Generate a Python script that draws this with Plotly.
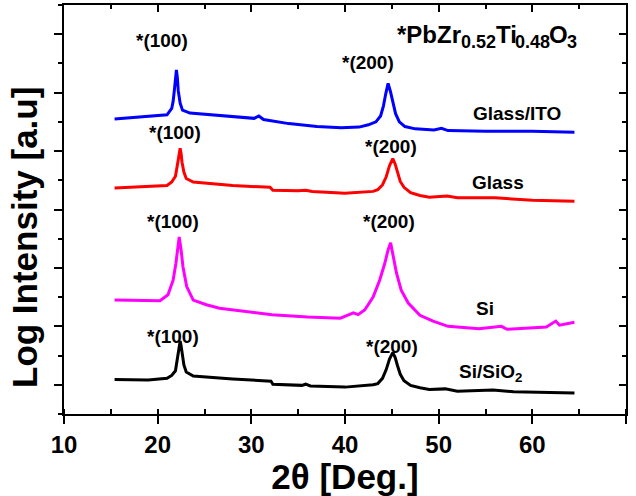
import plotly.graph_objects as go

# ---- data (2theta in degrees, log intensity offset in arbitrary units) ----
ito_x = [15.4, 18, 21.0, 21.5, 21.65, 21.8, 21.9, 22.0, 22.1, 22.2, 22.4, 22.65, 23.45, 26.6, 30.3, 30.8, 31.3,
         34, 37, 39.6, 41.5, 42.5, 43.3, 43.8, 44.1, 44.35, 44.6, 44.85, 45.1, 45.4, 45.8, 46.4, 47.5, 49.5,
         50.3, 51, 55, 60, 64.5]
ito_y = [5.05, 5.08, 5.12, 5.23, 5.35, 5.57, 5.75, 5.89, 5.76, 5.53, 5.32, 5.20, 5.15, 5.11, 5.06, 5.10, 5.04,
         4.97, 4.92, 4.90, 4.91, 4.95, 5.00, 5.10, 5.27, 5.48, 5.66, 5.52, 5.32, 5.14, 5.00, 4.92, 4.88, 4.86,
         4.89, 4.85, 4.84, 4.84, 4.82]

glass_x = [15.4, 19, 21.0, 21.5, 21.9, 22.05, 22.2, 22.3, 22.4, 22.5, 22.6, 22.8, 23.05, 23.8, 28, 32, 32.3,
           35, 35.8, 36.5, 40, 43, 43.5, 44.0, 44.4, 44.75, 45.1, 45.35, 45.6, 45.9, 46.3, 47.0, 48.0, 49,
           50.9, 52, 56, 60, 64.5]
glass_y = [3.87, 3.89, 3.91, 3.97, 4.07, 4.21, 4.38, 4.50, 4.55, 4.46, 4.31, 4.14, 4.03, 3.97, 3.91, 3.88, 3.83,
           3.82, 3.83, 3.81, 3.78, 3.81, 3.84, 3.92, 4.06, 4.25, 4.37, 4.28, 4.12, 3.98, 3.88, 3.79, 3.74, 3.71,
           3.73, 3.70, 3.70, 3.66, 3.64]

si_x = [15.4, 18.1, 20.25, 21.1, 21.65, 21.95, 22.1, 22.3, 22.5, 22.7, 23.1, 23.8, 25.2, 26.6, 32.2, 36,
        39.5, 40.9, 41.4, 42.1, 43.0, 43.7, 44.25, 44.6, 44.87, 45.15, 45.5, 46.0, 46.75, 48.0, 49.4, 51,
        54.3, 56.7, 57.3, 61.5, 62.5, 62.9, 64.5]
si_y = [1.95, 1.95, 1.94, 2.04, 2.29, 2.58, 2.81, 3.03, 2.81, 2.52, 2.18, 1.95, 1.87, 1.81, 1.70, 1.66,
        1.64, 1.73, 1.70, 1.78, 2.00, 2.29, 2.58, 2.81, 2.93, 2.69, 2.41, 2.12, 1.90, 1.69, 1.59, 1.50,
        1.46, 1.50, 1.45, 1.49, 1.59, 1.52, 1.57]

sio2_x = [15.4, 19, 21.0, 21.5, 21.9, 22.05, 22.2, 22.3, 22.4, 22.5, 22.6, 22.8, 23.05, 23.8, 28, 32.1, 32.3,
          35.4, 35.8, 36.3, 40, 43, 43.5, 44.0, 44.4, 44.75, 45.1, 45.35, 45.6, 45.9, 46.3, 47.0, 48, 49,
          50.7, 52, 55.8, 58, 64.5]
sio2_y = [0.59, 0.58, 0.61, 0.66, 0.74, 0.88, 1.05, 1.18, 1.25, 1.17, 1.03, 0.84, 0.72, 0.65, 0.60, 0.56, 0.51,
          0.49, 0.51, 0.48, 0.46, 0.50, 0.52, 0.61, 0.76, 0.94, 1.05, 0.97, 0.83, 0.68, 0.57, 0.49, 0.45, 0.42,
          0.43, 0.39, 0.41, 0.38, 0.36]

x_ticks = [10, 20, 30, 40, 50, 60, 70]

FONT = "Liberation Sans, Arial, sans-serif"

fig = go.Figure()
for xs, ys, col in [(ito_x, ito_y, "#0000FF"), (glass_x, glass_y, "#FF0000"),
                    (si_x, si_y, "#FF00FF"), (sio2_x, sio2_y, "#000000")]:
    fig.add_trace(go.Scatter(x=xs, y=ys, mode="lines", line=dict(color=col, width=3),
                             showlegend=False, hoverinfo="skip"))
# carrier for mirrored (top / right) axes
fig.add_trace(go.Scatter(x=[None], y=[None], xaxis="x2", yaxis="y2", showlegend=False, hoverinfo="skip"))

labels = [
    ("*(100)", 20.46, 6.40), ("*(200)", 42.44, 6.02), ("Glass/ITO", 58.35, 5.15),
    ("*(100)", 21.85, 4.81), ("*(200)", 44.9, 4.57), ("Glass", 56.3, 3.97),
    ("*(100)", 21.6, 3.30), ("*(200)", 44.7, 3.29), ("Si", 54.9, 1.80),
    ("*(100)", 21.6, 1.32), ("*(200)", 45.0, 1.15), ("Si/SiO<sub>2</sub>", 55.5, 0.70),
]
for t, x, y in labels:
    fig.add_annotation(x=x, y=y, xref="x", yref="y", text=t, showarrow=False,
                       font=dict(family=FONT, size=19, color="black", weight="bold"))

# formula label built from pieces: (text, left pixel, centre pixel y, size)
formula = [("*PbZr", 395, 34, 24), ("0.52", 459, 42, 18), ("Ti", 494, 34, 24),
           ("0.48", 513, 42, 18), ("O", 547, 34, 24), ("3", 565, 42, 18)]
for t, px, py, sz in formula:
    fig.add_annotation(x=(px - 64) / 562, y=(414 - py) / 409, xref="paper", yref="paper",
                       xanchor="left", yanchor="middle", text=t, showarrow=False,
                       font=dict(family=FONT, size=sz, color="black", weight="bold"))

# y-axis title
fig.add_annotation(x=(24 - 64) / 562, y=(414 - 238) / 409, xref="paper", yref="paper",
                   text="Log Intensity [a.u]", textangle=-90, showarrow=False,
                   xanchor="center", yanchor="middle",
                   font=dict(family=FONT, size=35, color="black", weight="bold"))

axis_common = dict(showline=True, linecolor="black", linewidth=1.5, showgrid=False, zeroline=False)

fig.update_layout(
    width=636, height=496,
    margin=dict(l=64, r=10, t=5, b=82),
    plot_bgcolor="white", paper_bgcolor="white",
    xaxis=dict(range=[10, 70], tickvals=x_ticks, ticks="outside", ticklen=8, tickwidth=1.5, tickcolor="black",
               minor=dict(dtick=5, tick0=10, ticks="inside", ticklen=5, tickwidth=1.5, tickcolor="black"),
               tickfont=dict(family=FONT, size=24, color="black", weight="bold"),
               title=dict(text="2θ [Deg.]", font=dict(family=FONT, size=35, color="black", weight="bold"),
                          standoff=8),
               **axis_common),
    yaxis=dict(range=[0, 7], tick0=0.5, dtick=1, ticks="outside", ticklen=8, tickwidth=1.5, tickcolor="black",
               showticklabels=False,
               minor=dict(dtick=0.5, tick0=0, ticks="outside", ticklen=4, tickwidth=1.5, tickcolor="black"),
               **axis_common),
    xaxis2=dict(range=[10, 70], overlaying="x", side="top", anchor="y2", tick0=10, dtick=10,
                ticks="inside", ticklen=7, tickwidth=1.5, tickcolor="black", showticklabels=False,
                minor=dict(dtick=5, tick0=10, ticks="inside", ticklen=4, tickwidth=1.5, tickcolor="black"),
                **axis_common),
    yaxis2=dict(range=[0, 7], overlaying="y", side="right", anchor="x2", tick0=0.5, dtick=1,
                ticks="inside", ticklen=7, tickwidth=1.5, tickcolor="black", showticklabels=False,
                minor=dict(dtick=0.5, tick0=0, ticks="inside", ticklen=4, tickwidth=1.5, tickcolor="black"),
                **axis_common),
)

fig.write_html("out.html")
